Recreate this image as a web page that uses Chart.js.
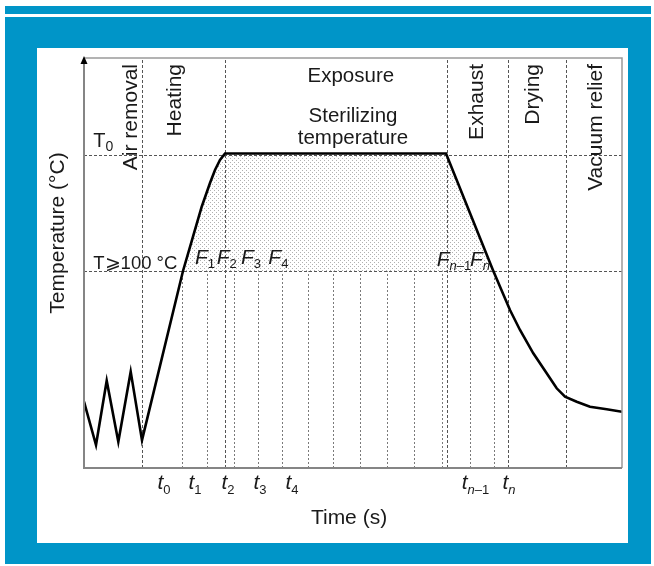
<!DOCTYPE html>
<html><head><meta charset="utf-8">
<script src="https://cdn.jsdelivr.net/npm/chart.js@4/dist/chart.umd.min.js"></script>
<style>html,body{margin:0;padding:0;background:#fff;overflow:hidden}#wrap{position:relative;width:654px;height:566px}</style>
</head><body><div id="wrap"><canvas id="c" width="654" height="566"></canvas></div>
<script>
// ---- data (arbitrary units: time 0-100, temperature 0-100) ----
const curveX = [0, 2.23, 4.22, 6.38, 8.68, 10.78, 18.40, 20.26, 21.88, 23.42, 24.35, 25.28, 26.21, 67.29, 76.0, 79.18, 81.04, 83.51, 86.0, 87.86, 89.41, 91.58, 94.05, 97.16, 100];
const curveY = [16.2, 5.6, 21.3, 6.4, 23.5, 6.8, 48.05, 56.41, 63.73, 69.51, 72.68, 75.12, 76.71, 76.71, 48.3, 38.54, 33.66, 27.98, 23.1, 19.44, 17.39, 16.17, 14.95, 14.32, 13.73];
const shadeX = [18.40, 20.26, 21.88, 23.42, 24.35, 25.28, 26.21, 67.29, 76.09];
const shadeY = [48.0, 56.41, 63.73, 69.51, 72.68, 75.12, 76.71, 76.71, 48.0];
const phaseBounds = [10.8, 26.2, 67.5, 78.8, 89.6];
const T0 = 76.3;
const T100 = 48.0;
const sampleTimes = [18.2, 22.9, 27.9, 32.3, 36.8, 41.6, 46.3, 51.3, 56.3, 61.3, 66.5, 71.7, 76.2];
const timeTickX = [14.87, 20.63, 26.77, 32.71, 38.66, 72.77, 79.0];
const timeTickSub = ['0', '1', '2', '3', '4', 'n\u20131', 'n'];
const fluxX = [20.63, 24.67, 29.18, 34.26, 65.56, 71.75];
const fluxSub = ['1', '2', '3', '4', 'n\u20131', 'n'];
const phaseVertical = ['Air removal', 'Heating', 'Exhaust', 'Drying', 'Vacuum relief'];
const phaseVerticalX = [9.85, 18.12, 74.22, 84.48, 96.23];

// ---- styles ----
const FONT = "'Liberation Sans', Arial, Helvetica, sans-serif";
const BLUE = '#0095c8';

function makePattern() {
  const p = document.createElement('canvas');
  p.width = 4; p.height = 4;
  const g = p.getContext('2d');
  g.fillStyle = '#b0b0b0';
  g.fillRect(0, 0, 1, 1);
  g.fillRect(2, 2, 1, 1);
  return document.getElementById('c').getContext('2d').createPattern(p, 'repeat');
}

function rich(ctx, parts, x, y, align) {
  let w = 0;
  parts.forEach(p => { ctx.font = (p.it ? 'italic ' : '') + p.size + 'px ' + FONT; p.w = ctx.measureText(p.t).width; w += p.w; });
  let cx = align === 'center' ? x - w / 2 : (align === 'right' ? x - w : x);
  ctx.textAlign = 'left'; ctx.textBaseline = 'alphabetic';
  parts.forEach(p => { ctx.font = (p.it ? 'italic ' : '') + p.size + 'px ' + FONT; ctx.fillText(p.t, cx, y + (p.dy || 0)); cx += p.w; });
}
function subParts(s, size, dy) {
  const out = [];
  if (s.startsWith('n')) { out.push({t: 'n', size: size, it: true, dy: dy}); if (s.length > 1) out.push({t: s.slice(1), size: size, dy: dy}); }
  else out.push({t: s, size: size, dy: dy});
  return out;
}

const decor = {
  id: 'decor',
  beforeDraw(chart) {
    const ctx = chart.ctx;
    ctx.save();
    ctx.fillStyle = '#fff'; ctx.fillRect(0, 0, 654, 566);
    ctx.fillStyle = BLUE;
    ctx.fillRect(5, 6, 646, 8);
    ctx.fillRect(5, 17, 646, 547);
    ctx.fillStyle = '#fff';
    ctx.fillRect(37, 48, 591, 495);
    ctx.restore();
  },
  beforeDatasetsDraw(chart) {
    const ctx = chart.ctx, xs = chart.scales.x, ys = chart.scales.y;
    const a = chart.chartArea;
    ctx.save();
    ctx.lineWidth = 1;
    ctx.strokeStyle = '#7a7a7a'; ctx.setLineDash([2, 2]);
    sampleTimes.forEach(t => {
      const px = Math.round(xs.getPixelForValue(t)) + 0.5;
      ctx.beginPath(); ctx.moveTo(px, ys.getPixelForValue(0)); ctx.lineTo(px, ys.getPixelForValue(T100)); ctx.stroke();
    });
    ctx.strokeStyle = '#555'; ctx.setLineDash([3, 2]);
    phaseBounds.forEach(t => {
      const px = Math.round(xs.getPixelForValue(t)) + 0.5;
      ctx.beginPath(); ctx.moveTo(px, a.bottom); ctx.lineTo(px, a.top); ctx.stroke();
    });
    [T0, T100].forEach(v => {
      const py = Math.round(ys.getPixelForValue(v)) + 0.5;
      ctx.beginPath(); ctx.moveTo(a.left, py); ctx.lineTo(a.right, py); ctx.stroke();
    });
    ctx.restore();
  },
  afterDraw(chart) {
    const ctx = chart.ctx, xs = chart.scales.x, ys = chart.scales.y;
    const a = chart.chartArea;
    const X = v => xs.getPixelForValue(v), Y = v => ys.getPixelForValue(v);
    ctx.save();
    ctx.strokeStyle = '#9a9a9a'; ctx.lineWidth = 1.5;
    ctx.beginPath(); ctx.moveTo(a.left, a.top); ctx.lineTo(a.right, a.top); ctx.lineTo(a.right, a.bottom); ctx.stroke();
    ctx.strokeStyle = '#858585'; ctx.lineWidth = 2;
    ctx.beginPath(); ctx.moveTo(a.left, a.top + 4); ctx.lineTo(a.left, a.bottom); ctx.lineTo(a.right, a.bottom); ctx.stroke();
    ctx.fillStyle = '#000';
    ctx.beginPath(); ctx.moveTo(a.left, a.top - 2); ctx.lineTo(a.left - 3.5, a.top + 6); ctx.lineTo(a.left + 3.5, a.top + 6); ctx.closePath(); ctx.fill();

    ctx.fillStyle = '#1a1a1a';
    ctx.font = '21px ' + FONT;
    phaseVertical.forEach((s, i) => {
      ctx.save();
      ctx.translate(X(phaseVerticalX[i]), a.top + 6);
      ctx.rotate(-Math.PI / 2);
      ctx.textAlign = 'right'; ctx.textBaseline = 'alphabetic';
      ctx.fillText(s, 0, 0);
      ctx.restore();
    });
    ctx.textAlign = 'center'; ctx.textBaseline = 'alphabetic';
    ctx.font = '20.5px ' + FONT;
    ctx.fillText('Exposure', X(49.6), Y(94.1));
    ctx.fillText('Sterilizing', X(50.0), Y(84.4));
    ctx.fillText('temperature', X(50.0), Y(79.0));
    rich(ctx, [{t: 'T', size: 20}, {t: '0', size: 14, dy: 4}], X(1.73), Y(78.4), 'left');
    rich(ctx, [{t: 'T\u2a7e100 \u00b0C', size: 18.5}], X(1.73), Y(48.46), 'left');
    fluxX.forEach((v, i) => {
      rich(ctx, [{t: 'F', size: 21, it: true}].concat(subParts(fluxSub[i], 13, 4)), X(v), Y(i < 4 ? 49.8 : 49.3), 'left');
    });
    timeTickX.forEach((v, i) => {
      rich(ctx, [{t: 't', size: 21, it: true}].concat(subParts(timeTickSub[i], 13, 5)), X(v), a.bottom + 21, 'center');
    });
    ctx.font = '21px ' + FONT; ctx.textAlign = 'center';
    ctx.fillText('Time (s)', X(49.26), a.bottom + 56);
    ctx.save();
    ctx.translate(a.left - 20, 233);
    ctx.rotate(-Math.PI / 2);
    ctx.fillText('Temperature (\u00b0C)', 0, 0);
    ctx.restore();
    ctx.restore();
  }
};

new Chart(document.getElementById('c'), {
  type: 'line',
  data: {
    datasets: [
      { label: 'Temperature', data: curveX.map((x, i) => ({x, y: curveY[i]})), borderColor: '#000', borderWidth: 2.6, pointRadius: 0, tension: 0, fill: false, borderJoinStyle: 'miter' },
      { label: 'Lethality', data: shadeX.map((x, i) => ({x, y: shadeY[i]})), borderWidth: 0, borderColor: 'rgba(0,0,0,0)', pointRadius: 0, tension: 0, fill: {value: T100}, backgroundColor: makePattern() }
    ]
  },
  options: {
    responsive: false, animation: false,
    layout: {padding: {left: 84, right: 32, top: 58, bottom: 98}},
    plugins: {legend: {display: false}, tooltip: {enabled: false}},
    scales: {
      x: {type: 'linear', min: 0, max: 100, display: false},
      y: {type: 'linear', min: 0, max: 100, display: false}
    }
  },
  plugins: [decor]
});
</script></body></html>
